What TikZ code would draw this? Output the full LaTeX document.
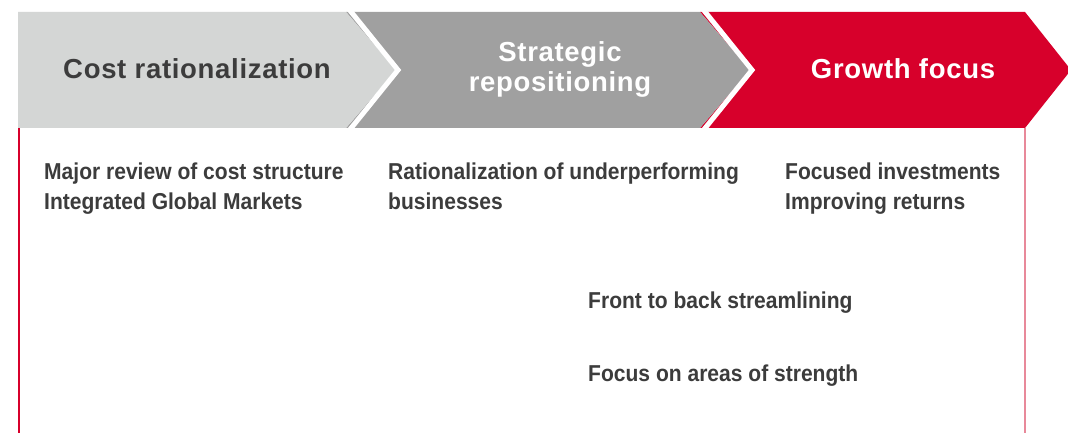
\documentclass[tikz,border=0pt]{standalone}
\usepackage{fontspec}
\setmainfont{Liberation Sans}
\newfontfamily\headfont[LetterSpace=2.5]{Liberation Sans}
\newfontfamily\bodyfont[FakeStretch=0.915]{Liberation Sans}
\definecolor{lightgrey}{HTML}{D4D6D5}
\definecolor{midgrey}{HTML}{A0A0A0}
\definecolor{brandred}{HTML}{D7002B}
\definecolor{pinkline}{HTML}{E8899A}
\definecolor{textgrey}{HTML}{3C3C3C}
\tikzset{
  headtext/.style={inner sep=0pt, font=\headfont\bfseries\fontsize{27.5}{29.5}\selectfont, align=center},
  bodytext/.style={inner sep=0pt, anchor=base west, text=textgrey, font=\bodyfont\bfseries\fontsize{23}{30}\selectfont, align=left},
  seam/.style={draw=white, line width=5pt, line join=miter, line cap=butt},
}
\begin{document}
\begin{tikzpicture}[x=1pt,y=-1pt]
\clip (0,0) rectangle (1068,433);
\fill[white] (0,0) rectangle (1068,433);
% chevrons
\fill[brandred] (700,12) -- (1025,12) -- (1071,70) -- (1025,128) -- (700,128) -- (750,70) -- cycle;
\fill[midgrey] (346,12) -- (700,12) -- (750,70) -- (700,128) -- (346,128) -- (396,70) -- cycle;
\fill[lightgrey] (18,12) -- (346,12) -- (396,70) -- (346,128) -- (18,128) -- cycle;
\draw[seam] (348,8) -- (398,70) -- (348,132);
\draw[seam] (702,8) -- (752,70) -- (702,132);
% vertical lines
\coordinate (l1) at (18.8,128);
\coordinate (l2) at (18.8,433);
\coordinate (r1) at (1025,128);
\coordinate (r2) at (1025,433);
\draw[brandred, line width=1.5pt] (l1) -- (l2);
\draw[pinkline, line width=1.5pt] (r1) -- (r2);
% headings
\node[headtext, text=textgrey, anchor=base] (h1) at (197,79) {Cost rationalization};
\node[headtext, text=white, anchor=center] (h2) at (560,69.5) {Strategic\\repositioning};
\node[headtext, text=white, anchor=base] (h3) at (903,79) {Growth focus};
% body texts
\node[bodytext] (b1) at (44,179) {Major review of cost structure};
\node[bodytext] (b2) at (44,209) {Integrated Global Markets};
\node[bodytext] (b3) at (388,179) {Rationalization of underperforming};
\node[bodytext] (b4) at (388,209) {businesses};
\node[bodytext] (b5) at (785,179) {Focused investments};
\node[bodytext] (b6) at (785,209) {Improving returns};
\node[bodytext] (b7) at (588,308) {Front to back streamlining};
\node[bodytext] (b8) at (588,381) {Focus on areas of strength};
\end{tikzpicture}
\end{document}
